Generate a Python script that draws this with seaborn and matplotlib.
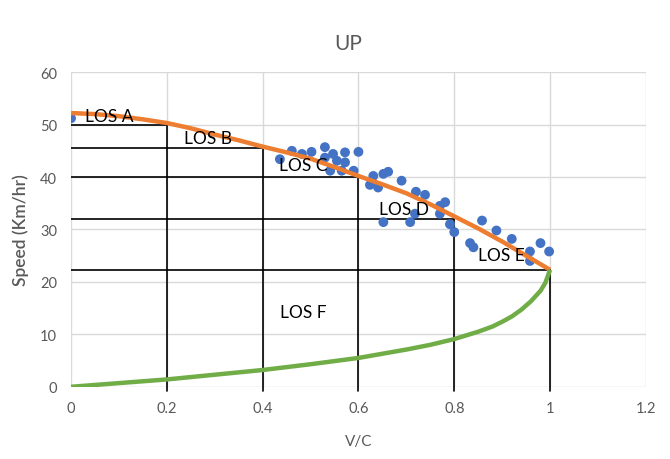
import matplotlib
matplotlib.use("Agg")
import matplotlib.pyplot as plt
import seaborn as sns
import pandas as pd

# Observed volume/capacity ratio and speed (km/h)
obs_vc = [0.00, 0.436, 0.461, 0.482, 0.502, 0.530, 0.530, 0.547, 0.555, 0.572,
          0.572, 0.600, 0.541, 0.565, 0.590, 0.631, 0.624, 0.641, 0.652, 0.662,
          0.690, 0.720, 0.739, 0.718, 0.708, 0.652, 0.781, 0.770, 0.770, 0.791,
          0.800, 0.833, 0.840, 0.858, 0.888, 0.920, 0.958, 0.958, 0.980, 0.998]
obs_speed = [51.2, 43.4, 45.0, 44.4, 44.8, 45.7, 43.7, 44.4, 43.1, 44.7,
             42.8, 44.8, 41.2, 41.2, 41.2, 40.2, 38.5, 38.0, 40.6, 41.0,
             39.3, 37.2, 36.6, 33.0, 31.4, 31.4, 35.2, 34.5, 33.0, 31.0,
             29.5, 27.4, 26.6, 31.7, 29.8, 28.2, 25.8, 24.0, 27.4, 25.8]

# Fitted speed-flow curve, uncongested branch
upper_vc = [0.0, 0.05, 0.1, 0.15, 0.2, 0.25, 0.3, 0.35, 0.4, 0.45, 0.5,
            0.55, 0.6, 0.65, 0.7, 0.75, 0.8, 0.85, 0.9, 0.95, 1.0]
upper_speed = [52.2, 52.0, 51.6, 51.0, 50.3, 49.3, 48.1, 47.0, 45.8, 44.7, 43.5,
               41.9, 40.2, 38.6, 36.9, 34.8, 32.5, 30.2, 27.7, 25.0, 22.3]

# Fitted speed-flow curve, congested branch
lower_vc = [0.0, 0.1, 0.2, 0.3, 0.4, 0.5, 0.6, 0.7, 0.75, 0.8, 0.85, 0.88,
            0.9, 0.92, 0.94, 0.96, 0.98, 0.99, 1.0]
lower_speed = [0.0, 0.7, 1.4, 2.3, 3.2, 4.3, 5.5, 7.1, 8.0, 9.1, 10.5, 11.5,
               12.4, 13.4, 14.7, 16.3, 18.3, 19.8, 22.3]

# Level-of-service boundaries: v/c limit and speed threshold
los_vc = [0.2, 0.4, 0.6, 0.8, 1.0]
los_speed = [50.0, 45.5, 40.0, 32.0, 22.2]

# Level-of-service labels and their anchor points
los_labels = ["LOS A", "LOS B", "LOS C", "LOS D", "LOS E", "LOS F"]
label_vc = [0.03, 0.235, 0.435, 0.643, 0.85, 0.437]
label_speed = [51.6, 47.4, 42.3, 33.9, 25.1, 14.3]

sns.set_theme(style="whitegrid")
plt.rcParams["font.family"] = ["Lato", "DejaVu Sans"]

fig = plt.figure(figsize=(6.7, 4.6), dpi=100)
ax = fig.add_axes([0.106, 0.157, 0.858, 0.684])

grid_c = "#D9D9D9"
text_c = "#595959"

# LOS boundary grid
for vc, sp in zip(los_vc, los_speed):
    ax.plot([0, vc], [sp, sp], color="black", lw=1.2, zorder=2)
    ax.plot([vc, vc], [-0.8, sp], color="black", lw=1.2, zorder=2, clip_on=False)

scatter_df = pd.DataFrame({"vc": obs_vc, "speed": obs_speed})
upper_df = pd.DataFrame({"vc": upper_vc, "speed": upper_speed})
lower_df = pd.DataFrame({"vc": lower_vc, "speed": lower_speed})

sns.scatterplot(data=scatter_df, x="vc", y="speed", color="#4472C4", s=50,
                edgecolor="none", ax=ax, zorder=3)
sns.lineplot(data=upper_df, x="vc", y="speed", color="#ED7D31", lw=3.2,
             ax=ax, zorder=4, solid_capstyle="butt")
sns.lineplot(data=lower_df, x="vc", y="speed", color="#70AD47", lw=3.2,
             ax=ax, zorder=4, solid_capstyle="butt")

for txt, x, y in zip(los_labels, label_vc, label_speed):
    ax.text(x, y, txt, fontsize=12.5, color="black", ha="left", va="center", zorder=5)

ax.set_xlim(0, 1.2)
ax.set_ylim(0, 60)
ax.set_xticks([0, 0.2, 0.4, 0.6, 0.8, 1.0, 1.2])
ax.set_xticklabels(["0", "0.2", "0.4", "0.6", "0.8", "1", "1.2"])
ax.set_yticks(range(0, 61, 10))
ax.grid(True, color=grid_c, lw=1)
for s in ax.spines.values():
    s.set_visible(False)
ax.tick_params(axis="both", colors=text_c, labelsize=10.5, length=0, pad=10)

ax.set_xlabel("V/C", fontsize=11, color=text_c, labelpad=14)
ax.set_ylabel("Speed (Km/hr)", fontsize=12.5, color=text_c, fontweight="semibold", labelpad=8)
fig.text(0.52, 0.905, "UP", fontsize=15, color=text_c, ha="center", va="center")

fig.savefig("out.png", dpi=100, facecolor="white")
